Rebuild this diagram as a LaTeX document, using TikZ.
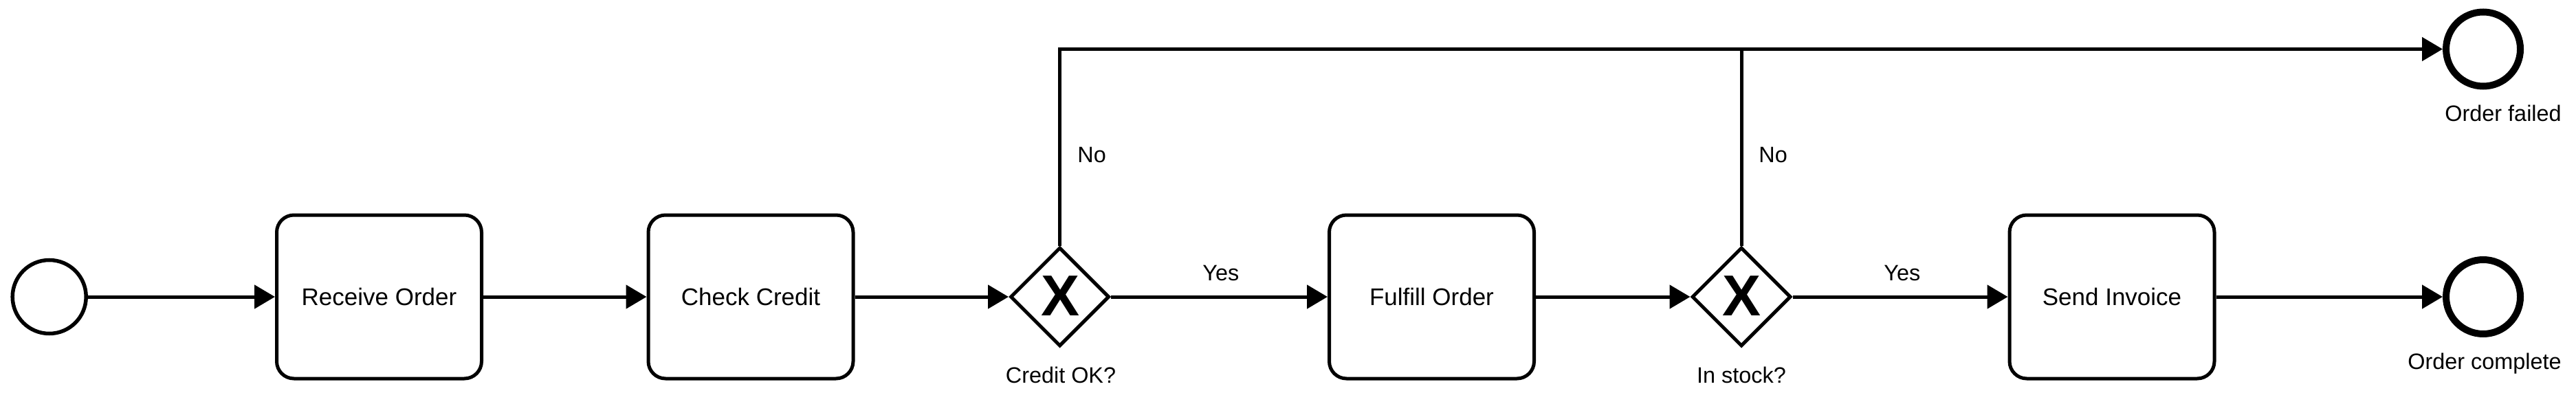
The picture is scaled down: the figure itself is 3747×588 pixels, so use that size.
\documentclass[tikz,border=0pt]{standalone}
\usepackage{fontspec}
\setmainfont{Liberation Sans}
\usetikzlibrary{shapes.geometric,arrows.meta}
\begin{document}
\begin{tikzpicture}[x=0.5pt,y=-0.5pt,
  task/.style={draw, line width=2.5pt, rounded corners=12.5pt, minimum width=149pt, minimum height=119pt, inner sep=0pt, font=\fontsize{17.5}{21}\selectfont},
  gateway/.style={draw, diamond, line width=2.5pt, minimum width=72pt, minimum height=72pt, inner sep=0pt},
  gx/.style={font=\fontsize{42}{50}\selectfont\bfseries, inner sep=0pt},
  startev/.style={draw, circle, line width=2.75pt, minimum size=53.5pt, inner sep=0pt},
  endev/.style={draw, circle, line width=5pt, minimum size=54pt, inner sep=0pt},
  lbl/.style={font=\fontsize{16.2}{19}\selectfont, inner sep=0pt, anchor=base},
  flow/.style={line width=2.5pt, -{Triangle[length=15pt,width=17pt]}},
  plain/.style={line width=2.5pt}
]
\useasboundingbox (0,0) rectangle (3747,588);

\node[startev] (s) at (71.7,432) {};
\node[task] (recv) at (551.5,432) {Receive Order};
\node[task] (check) at (1092,432) {Check Credit};
\node[gateway] (g1) at (1541.5,432) {};
\node[gx] (g1x) at (1542,431) {X};
\node[task] (fulfill) at (2082.5,432) {Fulfill Order};
\node[gateway] (g2) at (2533,432) {};
\node[gx] (g2x) at (2533,431) {X};
\node[task] (send) at (3072,432) {Send Invoice};
\node[endev] (endf) at (3612,71.5) {};
\node[endev] (endc) at (3612,432) {};

\node[lbl, anchor=base west] (no1) at (1567,237) {No};
\node[lbl, anchor=base west] (no2) at (2558,237) {No};
\node[lbl, anchor=base west] (yes1) at (1749,408) {Yes};
\node[lbl, anchor=base west] (yes2) at (2740,408) {Yes};
\node[lbl] (g1l) at (1543,557) {Credit OK?};
\node[lbl] (g2l) at (2533,557) {In stock?};
\node[lbl, anchor=base west] (efl) at (3556,177) {Order failed};
\node[lbl] (ecl) at (3614,537) {Order complete};

\draw[flow] (s) -- (recv);
\draw[flow] (recv) -- (check);
\draw[flow] (check) -- (g1);
\draw[flow] (g1) -- (fulfill);
\draw[flow] (fulfill) -- (g2);
\draw[flow] (g2) -- (send);
\draw[flow] (send) -- (endc);
\draw[flow] (g1.north) |- (endf.west);
\draw[plain] (g2.north) -- (g2.north |- endf.west);
\end{tikzpicture}
\end{document}
